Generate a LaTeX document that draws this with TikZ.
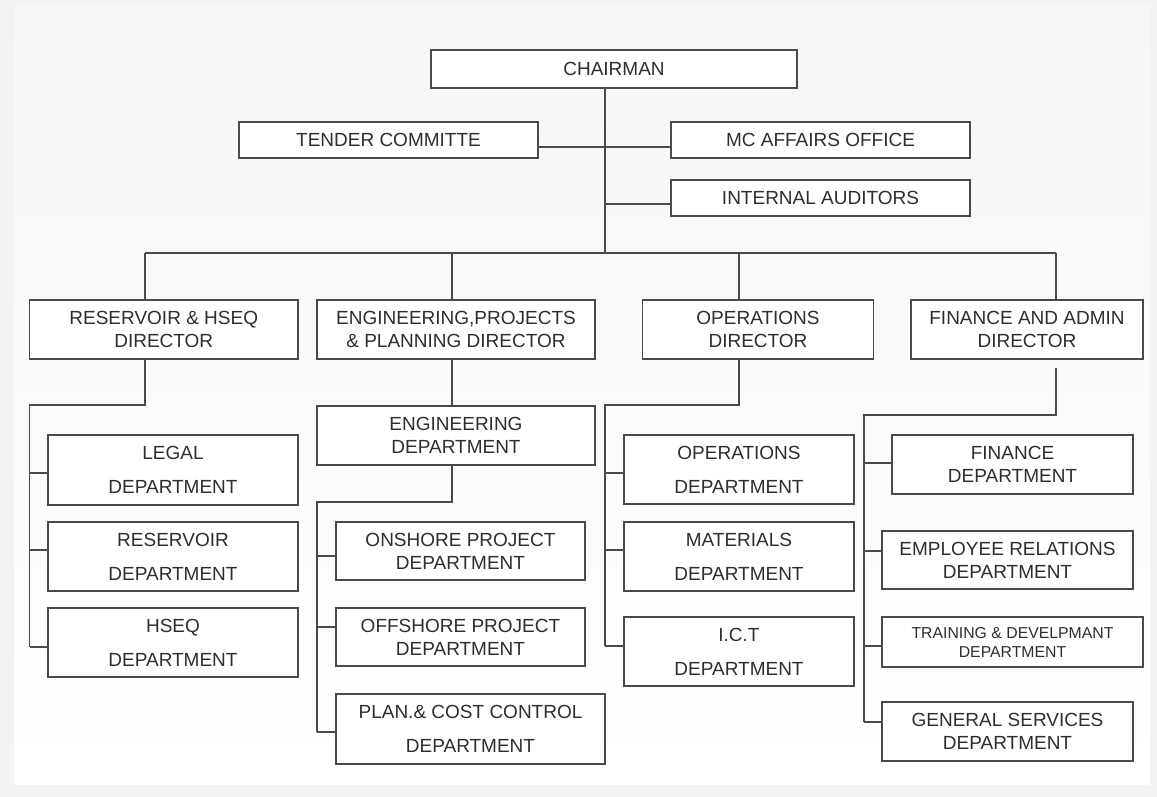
\documentclass[tikz,border=0pt]{standalone}
\usepackage{fontspec}
\setmainfont{Liberation Sans}
\definecolor{ln}{HTML}{4A4A4A}
\definecolor{tx}{HTML}{2E2E2E}
\definecolor{bgc}{HTML}{F3F3F3}
\begin{document}
\begin{tikzpicture}[x=1pt,y=-1pt,
  box/.style={draw=ln,line width=1.3pt,fill=white,inner sep=0pt,align=center,text=tx,font=\fontsize{19}{23}\selectfont},
  wide/.style={font=\fontsize{19}{34}\selectfont},
  conn/.style={draw=ln,line width=1.3pt}]
\useasboundingbox (0,0) rectangle (1157,797);
\fill[bgc] (0,0) rectangle (1157,797);
\shade[top color=gray!7,bottom color=white] (14,6) rectangle (1150,784);

% top level
\node[box,minimum width=366pt,minimum height=38pt] (chair) at (614,69) {CHAIRMAN};
\node[box,minimum width=299pt,minimum height=36pt] (tender) at (388.5,140) {TENDER COMMITTE};
\node[box,minimum width=299pt,minimum height=36pt] (mc) at (820.5,140) {MC AFFAIRS OFFICE};
\node[box,minimum width=299pt,minimum height=36pt] (audit) at (820.5,198) {INTERNAL AUDITORS};

% directors
\node[box,minimum width=268.5pt,minimum height=59pt] (d1) at (163.75,329.5) {RESERVOIR \& HSEQ\\DIRECTOR};
\node[box,minimum width=278pt,minimum height=59pt] (d2) at (456,329.5) {ENGINEERING,PROJECTS\\\& PLANNING DIRECTOR};
\node[box,minimum width=231pt,minimum height=59pt] (d3) at (758,329.5) {OPERATIONS\\DIRECTOR};
\node[box,minimum width=232pt,minimum height=59pt] (d4) at (1027,329.5) {FINANCE AND ADMIN\\DIRECTOR};

% reservoir branch
\node[box,wide,minimum width=250pt,minimum height=70pt] (legal) at (173,470) {LEGAL\\DEPARTMENT};
\node[box,wide,minimum width=250pt,minimum height=69pt] (resdep) at (173,556.5) {RESERVOIR\\DEPARTMENT};
\node[box,wide,minimum width=250pt,minimum height=69pt] (hseq) at (173,642.5) {HSEQ\\DEPARTMENT};

% engineering branch
\node[box,minimum width=278pt,minimum height=59pt] (engdep) at (456,435.5) {ENGINEERING\\DEPARTMENT};
\node[box,minimum width=249pt,minimum height=58pt] (onshore) at (460.5,551) {ONSHORE PROJECT\\DEPARTMENT};
\node[box,minimum width=249pt,minimum height=58pt] (offshore) at (460.5,637) {OFFSHORE PROJECT\\DEPARTMENT};
\node[box,wide,minimum width=269pt,minimum height=70pt] (plan) at (470.5,729) {PLAN.\& COST CONTROL\\DEPARTMENT};

% operations branch
\node[box,wide,minimum width=230pt,minimum height=69pt] (opsdep) at (739,469.5) {OPERATIONS\\DEPARTMENT};
\node[box,wide,minimum width=230pt,minimum height=69pt] (mat) at (739,556.5) {MATERIALS\\DEPARTMENT};
\node[box,wide,minimum width=230pt,minimum height=69pt] (ict) at (739,651.5) {I.C.T\\DEPARTMENT};

% finance branch
\node[box,minimum width=241pt,minimum height=59pt] (fin) at (1012.5,464.5) {FINANCE\\DEPARTMENT};
\node[box,minimum width=251pt,minimum height=58pt] (emp) at (1007.5,560) {EMPLOYEE RELATIONS\\DEPARTMENT};
\node[box,minimum width=261pt,minimum height=50pt,font=\fontsize{15.8}{19}\selectfont] (train) at (1012.5,642) {TRAINING \& DEVELPMANT\\DEPARTMENT};
\node[box,minimum width=251pt,minimum height=59pt] (gen) at (1007.5,731.5) {GENERAL SERVICES\\DEPARTMENT};

% junction coordinates
\coordinate (tline) at (605,147);
\coordinate (aline) at (605,204);
\coordinate (busL) at (145,253);
\coordinate (busT) at (605,253);
\coordinate (bus2) at (452,253);
\coordinate (bus3) at (739,253);
\coordinate (busR) at (1056,253);

\coordinate (r1) at (145,405);
\coordinate (r2) at (29.5,405);
\coordinate (rl) at (29.5,473);
\coordinate (rr) at (29.5,550);
\coordinate (rh) at (29.5,647);

\coordinate (e1) at (452,502);
\coordinate (e2) at (317,502);
\coordinate (eon) at (317,556);
\coordinate (eoff) at (317,627);
\coordinate (epl) at (317,732);

\coordinate (o1) at (739,405);
\coordinate (o2) at (605,405);
\coordinate (oop) at (605,473);
\coordinate (oma) at (605,550);
\coordinate (oic) at (605,646);

\coordinate (f0) at (1056,368);
\coordinate (f1) at (1056,415);
\coordinate (f2) at (864,415);
\coordinate (ffi) at (864,463);
\coordinate (fem) at (864,551);
\coordinate (ftr) at (864,646);
\coordinate (fge) at (864,722);

% top connectors
\draw[conn] (chair.south -| busT) -- (busT);
\draw[conn] (tender.east |- tline) -- (mc.west |- tline);
\draw[conn] (aline) -- (audit.west |- aline);
\draw[conn] (busL) -- (busR);
\draw[conn] (busL) -- (d1.north -| busL);
\draw[conn] (bus2) -- (d2.north -| bus2);
\draw[conn] (bus3) -- (d3.north -| bus3);
\draw[conn] (busR) -- (d4.north -| busR);

% reservoir
\draw[conn] (d1.south -| r1) -- (r1) -- (r2) -- (rh);
\draw[conn] (rl) -- (legal.west |- rl);
\draw[conn] (rr) -- (resdep.west |- rr);
\draw[conn] (rh) -- (hseq.west |- rh);

% engineering
\draw[conn] (d2.south -| e1) -- (engdep.north -| e1);
\draw[conn] (engdep.south -| e1) -- (e1) -- (e2) -- (epl);
\draw[conn] (eon) -- (onshore.west |- eon);
\draw[conn] (eoff) -- (offshore.west |- eoff);
\draw[conn] (epl) -- (plan.west |- epl);

% operations
\draw[conn] (d3.south -| o1) -- (o1) -- (o2) -- (oic);
\draw[conn] (oop) -- (opsdep.west |- oop);
\draw[conn] (oma) -- (mat.west |- oma);
\draw[conn] (oic) -- (ict.west |- oic);

% finance
\draw[conn] (f0) -- (f1) -- (f2) -- (fge);
\draw[conn] (ffi) -- (fin.west |- ffi);
\draw[conn] (fem) -- (emp.west |- fem);
\draw[conn] (ftr) -- (train.west |- ftr);
\draw[conn] (fge) -- (gen.west |- fge);
\end{tikzpicture}
\end{document}
